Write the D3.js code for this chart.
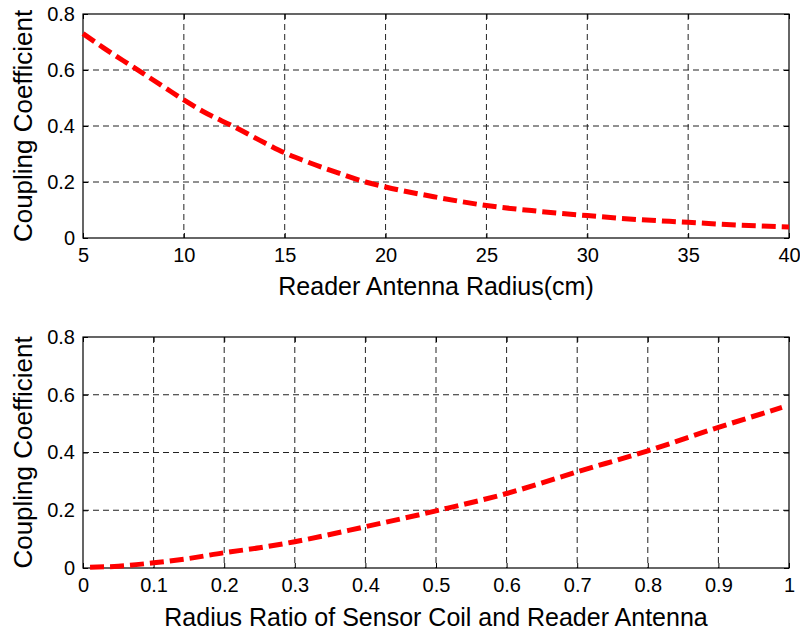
<!DOCTYPE html>
<html>
<head>
<meta charset="utf-8">
<script src="https://cdn.jsdelivr.net/npm/d3@7"></script>
<style>
  body { margin: 0; background: #fff; }
  text { font-family: "Liberation Sans", Arial, sans-serif; fill: #000; }
</style>
</head>
<body>
<div class="chart"></div>
<script>
// top panel: coupling vs reader antenna radius
var radius = [5, 6, 7.5, 9, 10, 11, 12.5, 14, 15, 16, 17.5, 19, 20, 22.5, 25, 27.5, 30, 32.5, 35, 37.5, 40];
var couplingTop = [0.73, 0.68, 0.61, 0.54, 0.493, 0.45, 0.397, 0.34, 0.304, 0.275, 0.236, 0.2, 0.182, 0.146, 0.116, 0.096, 0.08, 0.066, 0.056, 0.046, 0.039];

// bottom panel: coupling vs radius ratio
var ratio = [0.01, 0.05, 0.1, 0.15, 0.2, 0.25, 0.3, 0.4, 0.5, 0.6, 0.7, 0.8, 0.9, 0.99];
var couplingBottom = [0.003, 0.006, 0.018, 0.033, 0.053, 0.07, 0.091, 0.143, 0.198, 0.258, 0.333, 0.406, 0.487, 0.556];

var yTicks = [0, 0.2, 0.4, 0.6, 0.8];
var xTicksTop = [5, 10, 15, 20, 25, 30, 35, 40];
var xTicksBottom = [0, 0.1, 0.2, 0.3, 0.4, 0.5, 0.6, 0.7, 0.8, 0.9, 1];

var svgWidth = 800;
var svgHeight = 635;

var svg = d3.select(".chart")
  .append("svg")
  .attr("width", svgWidth)
  .attr("height", svgHeight);

function drawPanel(opt) {
  var left = 83, right = 789;
  var x = d3.scaleLinear().domain(opt.xDomain).range([left, right]);
  var y = d3.scaleLinear().domain([0, 0.8]).range([opt.bottom, opt.top]);
  var g = svg.append("g");

  // grid
  g.selectAll(".vgrid").data(opt.xTicks.slice(1, -1)).enter().append("line")
    .attr("x1", d => x(d)).attr("x2", d => x(d))
    .attr("y1", opt.top).attr("y2", opt.bottom)
    .attr("stroke", "#222").attr("stroke-width", 1).attr("stroke-dasharray", "6,4");
  g.selectAll(".hgrid").data(yTicks.slice(1, -1)).enter().append("line")
    .attr("x1", left).attr("x2", right)
    .attr("y1", d => y(d)).attr("y2", d => y(d))
    .attr("stroke", "#222").attr("stroke-width", 1).attr("stroke-dasharray", "6,4");

  // axes, ticks inward, labels
  var xAxis = d3.axisBottom(x).tickValues(opt.xTicks).tickSizeInner(-5).tickSizeOuter(0).tickPadding(10).tickFormat(d3.format("~g"));
  var yAxis = d3.axisLeft(y).tickValues(yTicks).tickSizeInner(-5).tickSizeOuter(0).tickPadding(8).tickFormat(d3.format("~g"));
  var xTop = d3.axisTop(x).tickValues(opt.xTicks).tickSizeInner(-5).tickSizeOuter(0).tickFormat("");
  var yRight = d3.axisRight(y).tickValues(yTicks).tickSizeInner(-5).tickSizeOuter(0).tickFormat("");

  [[xAxis, `translate(0,${opt.bottom})`], [yAxis, `translate(${left},0)`],
   [xTop, `translate(0,${opt.top})`], [yRight, `translate(${right},0)`]].forEach(function(a) {
    var ax = g.append("g").attr("transform", a[1]).call(a[0]);
    ax.attr("font-size", 20).attr("font-family", "Liberation Sans, Arial, sans-serif");
    ax.select(".domain").remove();
    ax.selectAll("line").attr("stroke", "#000");
    ax.selectAll("text").style("font-size", "20px").attr("fill", "#000");
  });

  g.append("rect")
    .attr("x", left).attr("y", opt.top)
    .attr("width", right - left).attr("height", opt.bottom - opt.top)
    .attr("fill", "none").attr("stroke", "#000").attr("stroke-width", 1.2);

  var line = d3.line()
    .x(d => x(d[0]))
    .y(d => y(d[1]))
    .curve(d3.curveMonotoneX);

  g.append("path")
    .datum(opt.xs.map((v, i) => [v, opt.ys[i]]))
    .attr("d", line)
    .attr("fill", "none")
    .attr("stroke", "#ff0000")
    .attr("stroke-width", 5)
    .attr("stroke-dasharray", "14,6");

  g.append("text")
    .attr("x", (left + right) / 2)
    .attr("y", opt.xLabelY)
    .attr("text-anchor", "middle")
    .style("font-size", "25px")
    .text(opt.xLabel);

  g.append("text")
    .attr("transform", `translate(32, ${(opt.top + opt.bottom) / 2}) rotate(-90)`)
    .attr("text-anchor", "middle")
    .style("font-size", "26px")
    .text("Coupling Coefficient");
}

drawPanel({
  top: 14, bottom: 238,
  xDomain: [5, 40], xTicks: xTicksTop,
  xs: radius, ys: couplingTop,
  xLabel: "Reader Antenna Radius(cm)", xLabelY: 295
});

drawPanel({
  top: 337, bottom: 568,
  xDomain: [0, 1], xTicks: xTicksBottom,
  xs: ratio, ys: couplingBottom,
  xLabel: "Radius Ratio of Sensor Coil and Reader Antenna", xLabelY: 626
});
</script>
</body>
</html>
